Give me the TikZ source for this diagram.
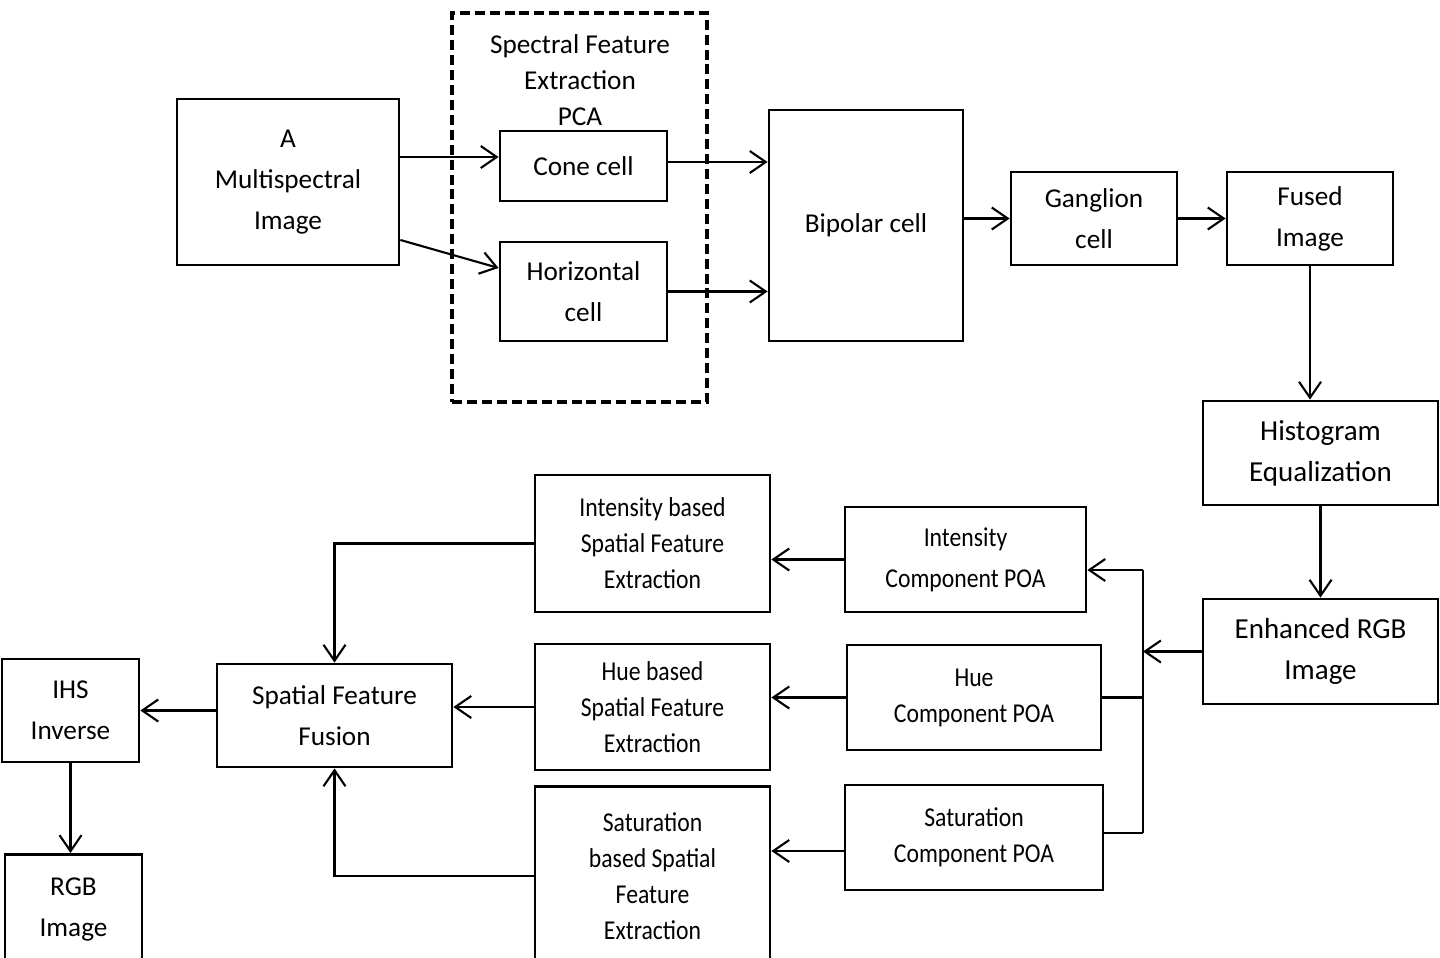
\documentclass[tikz,border=0pt]{standalone}
\usepackage{fontspec}
\setmainfont{Carlito}
\newfontfamily\narrowfont[FakeStretch=0.87]{Carlito}
\usetikzlibrary{arrows.meta}
\tikzset{
  blk/.style={draw, line width=1.6pt, align=center, inner sep=0pt,
    font=\fontsize{15.5}{23.3}\selectfont},
  blkwide/.style={blk, font=\fontsize{16.5}{23.3}\selectfont},
  blktight/.style={blk, font=\narrowfont\fontsize{15.5}{20.5}\selectfont},
  arr/.style={line width=1.2pt, -{Straight Barb[length=0.32cm,width=0.44cm]}},
  wire/.style={line width=1.2pt}
}

\begin{document}
\begin{tikzpicture}[x=0.02cm,y=-0.02cm]
\newcommand{\busx}{1143}

\useasboundingbox (0,0) rectangle (1440,957);

\node[draw, line width=2.2pt, dash pattern=on 5.7pt off 2.8pt, minimum width=5.1cm, minimum height=7.78cm] (pcabox) at (579.5,207.5) {};
\node[align=center, font=\fontsize{15.5}{20.5}\selectfont] (pcatitle) at (580,80) {Spectral Feature\\Extraction\\PCA};

\node[blk, minimum width=4.44cm, minimum height=3.32cm] (ms) at (288,182) {A\\Multispectral\\Image};
\node[blk, minimum width=3.34cm, minimum height=1.4cm] (cone) at (583.5,166) {Cone cell};
\node[blk, minimum width=3.34cm, minimum height=1.98cm] (horiz) at (583.5,291.5) {Horizontal\\cell};
\node[blk, minimum width=3.88cm, minimum height=4.62cm] (bipolar) at (866,225.5) {Bipolar cell};
\node[blk, minimum width=3.32cm, minimum height=1.86cm] (ganglion) at (1094,218.5) {Ganglion\\cell};
\node[blk, minimum width=3.32cm, minimum height=1.86cm] (fused) at (1310,218.5) {Fused\\Image};
\node[blkwide, minimum width=4.7cm, minimum height=2.08cm] (hist) at (1320.5,453) {Histogram\\Equalization};
\node[blkwide, minimum width=4.7cm, minimum height=2.1cm] (enh) at (1320.5,651.5) {Enhanced RGB\\Image};

\node[blktight, font=\narrowfont\fontsize{15.5}{23.3}\selectfont, minimum width=4.82cm, minimum height=2.1cm] (ipoa) at (965.5,559.5) {Intensity\\Component POA};
\node[blktight, minimum width=5.08cm, minimum height=2.1cm] (hpoa) at (974,697.5) {Hue\\Component POA};
\node[blktight, minimum width=5.16cm, minimum height=2.1cm] (spoa) at (974,837.5) {Saturation\\Component POA};

\node[blktight, minimum width=4.7cm, minimum height=2.74cm] (isfe) at (652.5,543.5) {Intensity based\\Spatial Feature\\Extraction};
\node[blktight, minimum width=4.7cm, minimum height=2.52cm] (hsfe) at (652.5,707) {Hue based\\Spatial Feature\\Extraction};
\node[blktight, anchor=north, minimum width=4.7cm, minimum height=3.6cm] (ssfe) at (652.5,785) {Saturation\\based Spatial\\Feature\\Extraction};

\node[blk, minimum width=4.7cm, minimum height=2.06cm] (fusion) at (334.5,715.5) {Spatial Feature\\Fusion};
\node[blk, minimum width=2.74cm, minimum height=2.06cm] (ihs) at (70.5,710.5) {IHS\\Inverse};
\node[blk, anchor=north, minimum width=2.74cm, minimum height=2.2cm] (rgb) at (73.5,853) {RGB\\Image};

\coordinate (msup) at ([yshift=0.5cm]ms.east);
\coordinate (msdown) at ([yshift=-1.16cm]ms.east);
\coordinate (horizin) at ([yshift=0.47cm]horiz.west);
\coordinate (coneout) at ([yshift=0.08cm]cone.east);
\coordinate (bustop) at (\busx,570);
\coordinate (busbot) at (\busx,833);
\coordinate (spoaout) at ([yshift=-0.27cm]spoa.west);

\draw[arr] (msup) -- (msup -| cone.west);
\draw[arr] (msdown) -- (horizin);
\draw[arr] (coneout) -- (coneout -| bipolar.west);
\draw[arr] (horiz.east) -- (horiz.east -| bipolar.west);
\draw[arr] (ganglion.west -| bipolar.east) -- (ganglion.west);
\draw[arr] (ganglion.east) -- (fused.west);
\draw[arr] (fused.south) -- (fused.south |- hist.north);
\draw[arr] (hist.south) -- (enh.north);

\draw[wire] (bustop) -- (busbot);
\draw[arr] (enh.west) -- (enh.west -| bustop);
\draw[arr] (bustop) -- (bustop -| ipoa.east);
\draw[wire] (hpoa.east) -- (hpoa.east -| bustop);
\draw[wire] (busbot -| spoa.east) -- (busbot);

\draw[arr] (ipoa.west) -- (ipoa.west -| isfe.east);
\draw[arr] (hpoa.west) -- (hpoa.west -| hsfe.east);
\draw[arr] (spoaout) -- (spoaout -| ssfe.east);

\draw[arr] (isfe.west) -| (fusion.north);
\draw[arr] (hsfe.west) -- (hsfe.west -| fusion.east);
\draw[arr] (ssfe.west) -| (fusion.south);
\draw[arr] (ihs.east -| fusion.west) -- (ihs.east);
\draw[arr] (ihs.south) -- (ihs.south |- rgb.north);
\end{tikzpicture}
\end{document}
